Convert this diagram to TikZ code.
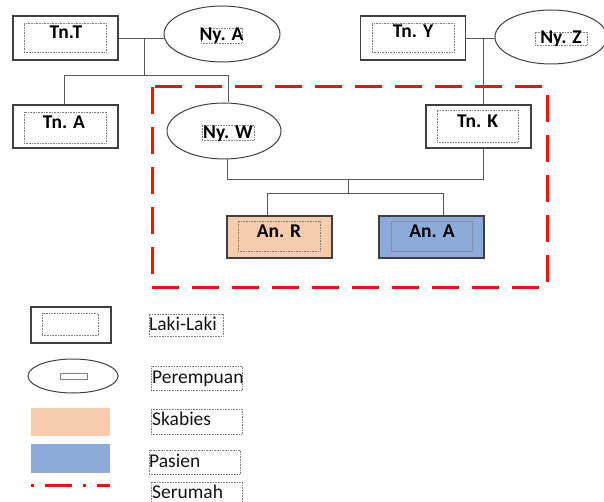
\documentclass[tikz,border=0pt]{standalone}
\usepackage{fontspec}
\setmainfont{Carlito}
\usetikzlibrary{shapes.geometric}
\definecolor{peach}{HTML}{F8CBAD}
\definecolor{pblue}{HTML}{8EAADB}
\definecolor{edgec}{HTML}{404040}
\definecolor{connc}{HTML}{595959}
\definecolor{hred}{HTML}{F01010}
\tikzset{
 malebox/.style={draw=edgec, line width=1.2pt, rectangle, inner sep=0, minimum width=105pt, minimum height=44pt},
 inbox/.style={draw=gray, densely dotted, line width=0.6pt, rectangle, inner sep=0},
 femalebox/.style={draw=edgec, line width=1pt, ellipse, inner sep=0},
 lbl/.style={font=\bfseries\fontsize{19.5}{22}\selectfont, text=black, anchor=base, inner sep=0},
 leg/.style={font=\fontsize{19.5}{22}\selectfont, text=black!92, anchor=base west, inner sep=0},
 link/.style={draw=connc, line width=0.9pt},
 house/.style={draw=hred, line width=3pt, dash pattern=on 27pt off 13pt},
}
\begin{document}
\begin{tikzpicture}[x=1pt,y=-1pt]
\useasboundingbox (0,0) rectangle (604,502);
% household boundary
\draw[house] (152,87) rectangle (547,287);
% generation 1
\node[malebox] (tnt) at (65.5,38) {};
\node[inbox, minimum width=82pt, minimum height=29pt] (tntb) at (65,37.5) {};
\node[lbl] (tntt) at (66,38.5) {Tn.T};
\node[femalebox, minimum width=116pt, minimum height=56pt] (nya) at (222,34) {};
\node[inbox, minimum width=41pt, minimum height=15pt] (nyab) at (221.5,35.5) {};
\node[lbl] (nyat) at (221.5,41) {Ny. A};
\node[malebox] (tny) at (413,38) {};
\node[inbox, minimum width=82pt, minimum height=29pt] (tnyb) at (413,37.5) {};
\node[lbl] (tnyt) at (413,38) {Tn. Y};
\node[femalebox, minimum width=112pt, minimum height=54pt] (nyz) at (551,37) {};
\node[inbox, minimum width=52pt, minimum height=13pt] (nyzb) at (561,38.5) {};
\node[lbl] (nyzt) at (561,44) {Ny. Z};
% generation 2
\node[malebox, minimum height=43pt] (tna) at (65.5,126.5) {};
\node[inbox, minimum width=82pt, minimum height=31pt] (tnab) at (65,127.5) {};
\node[lbl] (tnat) at (64,128.5) {Tn. A};
\node[femalebox, minimum width=114pt, minimum height=56pt] (nyw) at (224,131) {};
\node[inbox, minimum width=52pt, minimum height=15pt] (nywb) at (228,132.5) {};
\node[lbl] (nywt) at (228,138.5) {Ny. W};
\node[malebox, minimum height=43pt] (tnk) at (478.5,126.5) {};
\node[inbox, minimum width=81pt, minimum height=32pt] (tnkb) at (477.5,126) {};
\node[lbl] (tnkt) at (477.5,127.5) {Tn. K};
% generation 3
\node[malebox, fill=peach, minimum height=42pt] (anr) at (279.5,237) {};
\node[inbox, minimum width=82pt, minimum height=30pt] (anrb) at (279,236) {};
\node[lbl] (anrt) at (279,237.5) {An. R};
\node[malebox, fill=pblue, minimum height=42pt] (ana) at (431.5,237) {};
\node[inbox, minimum width=81pt, minimum height=30pt] (anab) at (431.5,236) {};
\node[lbl] (anat) at (432,237.5) {An. A};
% connectors
\coordinate (j1) at (144,38);
\coordinate (j1b) at (144,75);
\coordinate (h1a) at (64,75);
\coordinate (h1b) at (228,75);
\draw[link] (tnt.east) -- (tnt.east -| nya.west);
\draw[link] (j1) -- (j1b);
\draw[link] (tna.north -| h1a) -- (h1a) -- (h1b) -- (h1b |- nyw.north);
\coordinate (j2) at (483,38);
\draw[link] (tny.east) -- (tny.east -| nyz.west);
\draw[link] (j2) -- (j2 |- tnk.north);
\coordinate (c1) at (227,179);
\coordinate (c2) at (483,179);
\draw[link] (nyw.south -| c1) -- (c1) -- (c2) -- (c2 |- tnk.south);
\coordinate (c3) at (348,179);
\coordinate (c4) at (348,193);
\coordinate (c5) at (267,193);
\coordinate (c6) at (443,193);
\draw[link] (c3) -- (c4);
\draw[link] (c5 |- anr.north) -- (c5) -- (c6) -- (c6 |- ana.north);
% legend
\node[malebox, minimum width=80pt, minimum height=36pt] (lm) at (71,325) {};
\node[inbox, minimum width=56pt, minimum height=22pt] (lmb) at (70,324) {};
\node[inbox, minimum width=74pt, minimum height=22pt] (lmlb) at (186,325) {};
\node[leg] (lmt) at (149,330) {Laki-Laki};
\node[femalebox, minimum width=90pt, minimum height=34pt] (lf) at (73,376) {};
\node[draw=gray, line width=0.8pt, rectangle, inner sep=0, minimum width=27pt, minimum height=6pt] (lfb) at (73.5,376) {};
\node[inbox, minimum width=91pt, minimum height=24pt] (lflb) at (196.5,378) {};
\node[leg] (lft) at (152,383) {Perempuan};
\node[fill=peach, inner sep=0, minimum width=79pt, minimum height=28pt] (ls) at (70.5,422) {};
\node[inbox, minimum width=91pt, minimum height=25pt] (lslb) at (196.5,421.5) {};
\node[leg] (lst) at (152,425) {Skabies};
\node[fill=pblue, inner sep=0, minimum width=79pt, minimum height=29pt] (lp) at (70.5,458.5) {};
\node[inbox, minimum width=91pt, minimum height=24pt] (lplb) at (194.5,462) {};
\node[leg] (lpt) at (149,467) {Pasien};
\coordinate (sa) at (31,485);
\coordinate (sb) at (110,485);
\draw[hred, line width=3pt, dash pattern=on 3pt off 11pt on 27pt off 11pt] (sa) -- (sb);
\node[inbox, minimum width=91pt, minimum height=23pt] (lhlb) at (196.5,493.5) {};
\node[leg] (lht) at (152,498) {Serumah};
\end{tikzpicture}
\end{document}
